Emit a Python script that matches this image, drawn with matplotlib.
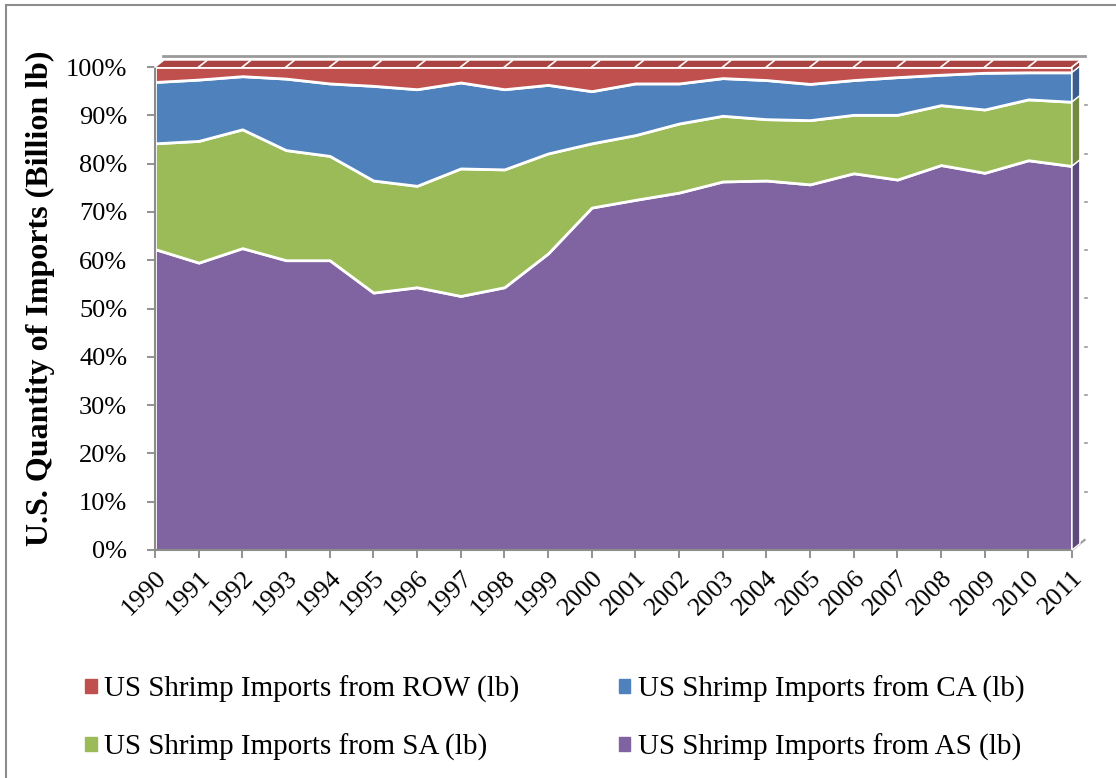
import matplotlib as mpl
import matplotlib.pyplot as plt
from matplotlib.patches import Polygon, Rectangle, Patch
from matplotlib.transforms import ScaledTranslation

years = list(range(1990, 2012))

# cumulative tops (percent of total)
top_as = [62.3, 59.5, 62.5, 60.0, 60.0, 53.3, 54.4, 52.6, 54.4, 61.4, 70.9,
          72.5, 74.0, 76.3, 76.5, 75.7, 78.0, 76.7, 79.7, 78.1, 80.7, 79.5]
top_sa = [84.2, 84.7, 87.1, 82.8, 81.6, 76.5, 75.4, 79.0, 78.8, 82.1, 84.2,
          85.9, 88.3, 89.9, 89.2, 89.0, 90.1, 90.1, 92.1, 91.2, 93.3, 92.8]
top_ca = [96.9, 97.4, 98.1, 97.6, 96.6, 96.1, 95.4, 96.8, 95.4, 96.3, 95.0,
          96.6, 96.6, 97.7, 97.3, 96.5, 97.3, 97.9, 98.4, 98.8, 98.9, 98.9]

share_as = top_as
share_sa = [b - a for a, b in zip(top_as, top_sa)]
share_ca = [b - a for a, b in zip(top_sa, top_ca)]
share_row = [100 - a for a in top_ca]

labels = ['US Shrimp Imports from AS (lb)', 'US Shrimp Imports from SA (lb)',
          'US Shrimp Imports from CA (lb)', 'US Shrimp Imports from ROW (lb)']
colors = ['#8064A2', '#9BBB59', '#4F81BD', '#C0504D']
dark = ['#5E4A7A', '#72893F', '#3A5F8C', '#8E3B39']

mpl.rcParams['font.family'] = ['Liberation Serif', 'DejaVu Serif']
mpl.rcParams['font.size'] = 19

dpi = 100
fig = plt.figure(dpi=dpi, figsize=(1116 / dpi, 778 / dpi))
ax = fig.add_axes([155 / 1116, 1 - 550 / 778, 917 / 1116, 483 / 778])

ax.stackplot(years, share_as, share_sa, share_ca, share_row,
             colors=colors, labels=labels, edgecolor='white', linewidth=2.0,
             zorder=2)

ax.set_xlim(1990, 2011)
ax.set_ylim(0, 100)
ax.set_xticks(years)
ax.set_xticklabels([str(y) for y in years], rotation=45, ha='right',
                   rotation_mode='anchor')
shift = ScaledTranslation(8 / dpi, -2 / dpi, fig.dpi_scale_trans)
for lab in ax.get_xticklabels():
    lab.set_transform(lab.get_transform() + shift)
ax.set_yticks(range(0, 101, 10))
ax.set_yticklabels(['%d%%' % v for v in range(0, 101, 10)])
ax.tick_params(colors='#7F7F7F', labelcolor='black', length=6, width=1.2)
ax.tick_params(axis='y', pad=14)
ax.tick_params(axis='x', pad=6)
for s in ['top', 'right']:
    ax.spines[s].set_visible(False)
for s in ['left', 'bottom']:
    ax.spines[s].set_color('#8C8C8C')
    ax.spines[s].set_linewidth(1.5)

# fake 3D depth like the Excel chart
dx, dy = 0.18, 1.3
tops = [top_as, top_sa, top_ca, [100] * len(years)]
lows = [[0] * len(years), top_as, top_sa, top_ca]
for lo, hi, c in zip(lows, tops, dark):
    ax.add_patch(Polygon([(2011, lo[-1]), (2011, hi[-1]), (2011 + dx, hi[-1] + dy),
                          (2011 + dx, lo[-1] + dy)], closed=True, facecolor=c,
                         edgecolor='white', linewidth=1.0, clip_on=False, zorder=3))
ax.add_patch(Polygon([(1990, 100), (2011, 100), (2011 + dx, 100 + dy), (1990 + dx, 100 + dy)],
                     closed=True, facecolor='#A94442', edgecolor='none',
                     clip_on=False, zorder=3))
for y in years:
    ax.plot([y, y + dx], [100, 100 + dy], color='white', lw=1.2, clip_on=False, zorder=4)
ax.plot([1990 + dx, 2011 + 1.6 * dx], [102.3, 102.3], color='#9A9A9A', lw=2,
        clip_on=False, zorder=1)
ax.plot([2011, 2011 + 1.6 * dx], [0, 1.6 * dy], color='#9A9A9A', lw=1.5,
        clip_on=False, zorder=1)
for v in range(10, 100, 10):
    ax.plot([2011 + 1.6 * dx, 2011 + 1.9 * dx], [v + 1.6 * dy] * 2, color='#9A9A9A',
            lw=1.2, clip_on=False, zorder=1)

fig.text(40 / 1116, 1 - 298 / 778, 'U.S. Quantity of Imports (Billion lb)',
         rotation=90, ha='center', va='center', fontsize=23, fontweight='bold')

handles = [Patch(color=c) for c in colors]
order = [3, 1, 2, 0]
fig.legend([handles[i] for i in order], [labels[i] for i in order],
           loc='center', bbox_to_anchor=(0.497, 0.077), ncol=2, frameon=False,
           handlelength=0.4, handleheight=0.4, handletextpad=0.25,
           columnspacing=3.4, labelspacing=1.05, fontsize=21)

fig.add_artist(Rectangle((6 / 1116, -0.1), 1.2, 1.1 - 5 / 778, transform=fig.transFigure,
                         fill=False, edgecolor='#8C8C8C', linewidth=1.5))

fig.savefig('out.png')
